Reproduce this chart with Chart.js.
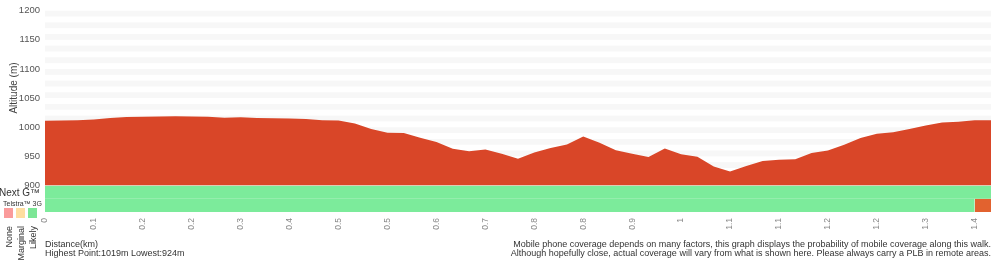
<!DOCTYPE html>
<html>
<head>
<meta charset="utf-8">
<script src="https://cdn.jsdelivr.net/npm/chart.js@4/dist/chart.umd.min.js"></script>
<style>
  html, body { margin: 0; padding: 0; background: #fff; }
  #c { display: block; }
</style>
</head>
<body>
<canvas id="c" width="1000" height="260"></canvas>
<script>
// ---- data ----
const tickLabels = ['0','0.1','0.2','0.2','0.3','0.4','0.5','0.5','0.6','0.7','0.8','0.8','0.9','1','1.1','1.1','1.2','1.2','1.3','1.4'];
const pointsPerTick = 3;
const elevation = [1011, 1011.5, 1012, 1013.5, 1016, 1017.5, 1018, 1018.5, 1019, 1018.5,
  1018, 1016.5, 1017, 1016, 1015.5, 1015, 1014, 1012, 1011.5, 1006.5,
  997, 990.5, 990, 982, 974.5, 963, 959, 962, 954.5, 946,
  956.5, 964.5, 970.5, 984, 973.5, 960.5, 954.5, 949, 963.5, 953.5,
  949.5, 932.5, 924, 933.5, 942, 944, 945, 956, 960, 970,
  981.5, 989, 991.5, 997, 1003, 1008, 1009.5, 1012, 1012];
// coverage per segment (between consecutive points): 'L' likely, 'M' marginal, 'N' none
const nextGCoverage = Array(58).fill('L');
const telstra3GCoverage = Array(57).fill('L').concat(['N']);
const yTicks = [900, 950, 1000, 1050, 1100, 1150, 1200];
const highest = 1019, lowest = 924;

// ---- build ----
const labels = elevation.map((_, i) => (i % pointsPerTick === 0 && tickLabels[i / pointsPerTick] !== undefined) ? tickLabels[i / pointsPerTick] : '');
const covColors = { L: 'rgb(124,235,155)', M: 'rgb(255,222,160)', N: 'rgb(226,98,47)' };

function coverageDatasets(segments, top, bottom) {
  const out = [];
  ['L', 'M', 'N'].forEach(level => {
    if (!segments.includes(level)) return;
    const data = elevation.map((_, i) => (segments[i] === level || segments[i - 1] === level) ? top : null);
    out.push({
      type: 'line', data, yAxisID: 'yCov', xAxisID: 'x',
      backgroundColor: covColors[level], borderWidth: 0, pointRadius: 0,
      fill: { value: bottom }, spanGaps: false, tension: 0
    });
  });
  return out;
}

const FONT = '"Liberation Sans", Arial, Helvetica, sans-serif';

const stripes = {
  id: 'stripes',
  beforeDatasetsDraw(chart) {
    const { ctx, chartArea, scales: { y } } = chart;
    ctx.save();
    ctx.fillStyle = '#f7f7f7';
    for (let v = 1200; v > 900; v -= 20) {
      const t = y.getPixelForValue(v), b = y.getPixelForValue(v - 10);
      ctx.fillRect(chartArea.left, t, chartArea.right - chartArea.left, b - t);
    }
    ctx.restore();
  }
};

const texts = {
  id: 'texts',
  afterDraw(chart) {
    const { ctx, chartArea } = chart;
    ctx.save();
    ctx.fillStyle = '#333';
    ctx.textBaseline = 'alphabetic';
    // y title
    ctx.save();
    ctx.translate(17, 88);
    ctx.rotate(-Math.PI / 2);
    ctx.textAlign = 'center';
    ctx.font = '10px ' + FONT;
    ctx.fillStyle = '#444';
    ctx.fillText('Altitude (m)', 0, 0);
    ctx.restore();
    // coverage legend
    ctx.textAlign = 'left';
    ctx.font = '10px ' + FONT;
    ctx.fillText('Next G\u2122', -1, 196);
    ctx.font = '7px ' + FONT;
    ctx.fillText('Telstra\u2122 3G', 3, 206);
    const sq = [['rgb(250,155,155)', 4], ['rgb(255,222,160)', 16], ['rgb(124,230,150)', 28]];
    sq.forEach(([c, x]) => { ctx.fillStyle = c; ctx.fillRect(x, 208, 9, 10); });
    ctx.fillStyle = '#333';
    ctx.font = '9px ' + FONT;
    [['None', 12], ['Marginal', 24], ['Likely', 36]].forEach(([t, x]) => {
      ctx.save();
      ctx.translate(x, 226);
      ctx.rotate(-Math.PI / 2);
      ctx.textAlign = 'right';
      ctx.fillText(t, 0, 0);
      ctx.restore();
    });
    // bottom texts
    ctx.textAlign = 'left';
    ctx.font = '9px ' + FONT;
    ctx.fillText('Distance(km)', chartArea.left, 247);
    ctx.fillText('Highest Point:' + highest + 'm Lowest:' + lowest + 'm', chartArea.left, 256);
    ctx.textAlign = 'right';
    ctx.fillText('Mobile phone coverage depends on many factors, this graph displays the probability of mobile coverage along this walk.', 991, 247);
    ctx.fillText('Although hopefully close, actual coverage will vary from what is shown here. Please always carry a PLB in remote areas.', 991, 256);
    ctx.restore();
  }
};

new Chart(document.getElementById('c'), {
  type: 'line',
  data: {
    labels,
    datasets: [
      {
        data: elevation, yAxisID: 'y', xAxisID: 'x',
        backgroundColor: 'rgb(217,70,40)', borderWidth: 0,
        pointRadius: 0, fill: 'start', tension: 0
      },
      ...coverageDatasets(nextGCoverage, 2, 1),
      ...coverageDatasets(telstra3GCoverage, 1, 0)
    ]
  },
  options: {
    responsive: false,
    animation: false,
    devicePixelRatio: 1,
    layout: { padding: { top: 7, right: 9, left: 0, bottom: 0 } },
    plugins: { legend: { display: false }, tooltip: { enabled: false } },
    scales: {
      x: {
        type: 'category',
        offset: false,
        grid: { display: false, drawTicks: false },
        border: { display: false },
        ticks: {
          autoSkip: false, minRotation: 90, maxRotation: 90, padding: 6,
          color: '#888', font: { family: FONT, size: 8.5 }
        },
        afterFit(s) { s.height = 48; s.paddingLeft = 0; s.paddingRight = 0; }
      },
      yCov: {
        type: 'linear', position: 'left', stack: 'v', stackWeight: 1,
        min: 0, max: 2,
        grid: { display: false, drawTicks: false },
        border: { display: false },
        ticks: { display: false },
        afterFit(s) { s.width = 0; }
      },
      y: {
        type: 'linear', position: 'left', stack: 'v', stackWeight: 6.6,
        min: 900, max: 1200,
        grid: { display: false, drawTicks: false },
        border: { display: false },
        afterBuildTicks(s) { s.ticks = yTicks.map(v => ({ value: v })); },
        ticks: { padding: 5, color: '#555', font: { family: FONT, size: 9.5 }, callback: v => String(v) },
        afterFit(s) { s.width = 45; }
      }
    }
  },
  plugins: [stripes, texts]
});
</script>
</body>
</html>
